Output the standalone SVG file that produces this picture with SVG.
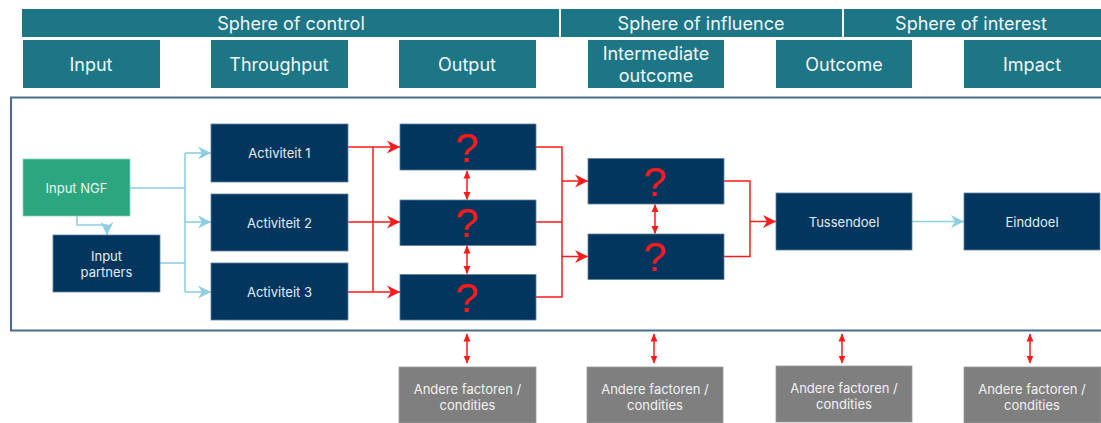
<svg xmlns="http://www.w3.org/2000/svg" width="1101" height="423" viewBox="0 0 1101 423">
<style>
.hdr{fill:#1d7686;}
.hdrt{fill:#f2f6f7;font-family:Inter,"Liberation Sans",sans-serif;font-size:18px;text-anchor:middle;dominant-baseline:central;}
.nav{fill:#03365f;stroke:#5f7f9e;stroke-width:0.8;}
.grn{fill:#2ba680;stroke:#8fd3bd;stroke-width:0.8;}
.gry{fill:#7f7f7f;stroke:#9a9a9a;stroke-width:0.8;}
.lbl{fill:#e4ecf3;font-family:Inter,"Liberation Sans",sans-serif;font-size:13px;text-anchor:middle;dominant-baseline:central;}
.q{fill:#ff1a1a;font-family:"Liberation Sans",Arial,sans-serif;font-size:41px;text-anchor:middle;dominant-baseline:central;}
.blue{fill:none;stroke:#8fcde2;stroke-width:1.6;}
.red{fill:none;stroke:#ff1a1a;stroke-width:1.5;}
</style>
<defs>
<marker id="ab" markerUnits="userSpaceOnUse" markerWidth="14" markerHeight="14" refX="13" refY="7" orient="auto">
<path d="M0,0.5 L13,7 L0,13.5 L4,7 Z" fill="#8fcde2"/>
</marker>
<marker id="ar" markerUnits="userSpaceOnUse" markerWidth="14" markerHeight="14" refX="13" refY="7" orient="auto">
<path d="M0,0.5 L13,7 L0,13.5 L4,7 Z" fill="#ff1a1a"/>
</marker>
<marker id="dr" markerUnits="userSpaceOnUse" markerWidth="8" markerHeight="8" refX="7.5" refY="4" orient="auto-start-reverse">
<path d="M0,0.5 L8,4 L0,7.5 Z" fill="#ff1a1a"/>
</marker>
</defs>

<g id="header">
<rect class="hdr" x="22" y="9" width="537" height="28"/>
<rect class="hdr" x="561" y="9" width="281" height="28"/>
<rect class="hdr" x="844" y="9" width="257" height="28"/>
<text class="hdrt" x="291" y="23">Sphere of control</text>
<text class="hdrt" x="701" y="23">Sphere of influence</text>
<text class="hdrt" x="971" y="23">Sphere of interest</text>
</g>
<g id="phases">
<rect class="hdr" x="23" y="40" width="137" height="48"/>
<text class="hdrt" x="91" y="64">Input</text>
<rect class="hdr" x="211" y="40" width="137" height="48"/>
<text class="hdrt" x="279" y="64">Throughput</text>
<rect class="hdr" x="399" y="40" width="137" height="48"/>
<text class="hdrt" x="467" y="64">Output</text>
<rect class="hdr" x="588" y="40" width="136" height="48"/>
<text class="hdrt" x="656" y="53">Intermediate</text>
<text class="hdrt" x="656" y="75">outcome</text>
<rect class="hdr" x="776" y="40" width="136" height="48"/>
<text class="hdrt" x="844" y="64">Outcome</text>
<rect class="hdr" x="964" y="40" width="137" height="48"/>
<text class="hdrt" x="1032" y="64">Impact</text>
</g>

<rect id="frame" x="11" y="97.5" width="1095" height="233" fill="none" stroke="#4a6d8f" stroke-width="2"/>

<g id="connectors">
<polyline class="blue" points="129,188 185,188"/>
<polyline class="blue" points="160,263 185,263"/>
<polyline class="blue" points="185,153 185,292"/>
<line class="blue" x1="185" y1="153" x2="211" y2="153" marker-end="url(#ab)"/>
<line class="blue" x1="185" y1="222" x2="211" y2="222" marker-end="url(#ab)"/>
<line class="blue" x1="185" y1="292" x2="211" y2="292" marker-end="url(#ab)"/>
<polyline class="blue" points="77,216 77,225 107,225 107,235" marker-end="url(#ab)"/>
<line class="blue" x1="912" y1="221.5" x2="964" y2="221.5" marker-end="url(#ab)"/>

<line class="red" x1="348" y1="147" x2="373" y2="147"/>
<line class="red" x1="348" y1="222" x2="373" y2="222"/>
<line class="red" x1="348" y1="292" x2="373" y2="292"/>
<line class="red" x1="373" y1="147" x2="373" y2="292"/>
<line class="red" x1="373" y1="147" x2="400" y2="147" marker-end="url(#ar)"/>
<line class="red" x1="373" y1="222" x2="400" y2="222" marker-end="url(#ar)"/>
<line class="red" x1="373" y1="292" x2="400" y2="292" marker-end="url(#ar)"/>

<polyline class="red" points="536,147 562,147 562,297 536,297"/>
<line class="red" x1="536" y1="222" x2="562" y2="222"/>
<line class="red" x1="562" y1="181" x2="588" y2="181" marker-end="url(#ar)"/>
<line class="red" x1="562" y1="256.5" x2="588" y2="256.5" marker-end="url(#ar)"/>

<polyline class="red" points="724,181 750,181 750,256.5 724,256.5"/>
<line class="red" x1="750" y1="221.5" x2="776" y2="221.5" marker-end="url(#ar)"/>

<line class="red" x1="467" y1="171" x2="467" y2="199.5" marker-start="url(#dr)" marker-end="url(#dr)"/>
<line class="red" x1="467" y1="246" x2="467" y2="273.5" marker-start="url(#dr)" marker-end="url(#dr)"/>
<line class="red" x1="655" y1="204.5" x2="655" y2="233.5" marker-start="url(#dr)" marker-end="url(#dr)"/>
<line class="red" x1="467" y1="334" x2="467" y2="363" marker-start="url(#dr)" marker-end="url(#dr)"/>
<line class="red" x1="654" y1="334" x2="654" y2="363" marker-start="url(#dr)" marker-end="url(#dr)"/>
<line class="red" x1="842" y1="334" x2="842" y2="363" marker-start="url(#dr)" marker-end="url(#dr)"/>
<line class="red" x1="1030" y1="334" x2="1030" y2="363" marker-start="url(#dr)" marker-end="url(#dr)"/>
</g>

<g id="input-ngf"><rect class="grn" x="23" y="159" width="107" height="57"/><text class="lbl" x="76.5" y="188" style="fill:#eef6f2">Input NGF</text></g>
<g id="input-partners"><rect class="nav" x="53" y="235" width="107" height="57"/><text class="lbl" x="106.5" y="256">Input</text><text class="lbl" x="106.5" y="272">partners</text></g>
<g id="activiteit-1"><rect class="nav" x="211" y="124" width="137" height="58"/><text class="lbl" x="279.5" y="153">Activiteit 1</text></g>
<g id="activiteit-2"><rect class="nav" x="211" y="194" width="137" height="57"/><text class="lbl" x="279.5" y="222.5">Activiteit 2</text></g>
<g id="activiteit-3"><rect class="nav" x="211" y="263" width="137" height="57"/><text class="lbl" x="279.5" y="292">Activiteit 3</text></g>
<g id="output-1"><rect class="nav" x="400" y="124" width="136" height="46"/><text class="q" x="467" y="148">?</text></g>
<g id="output-2"><rect class="nav" x="400" y="200" width="136" height="45.5"/><text class="q" x="467" y="223">?</text></g>
<g id="output-3"><rect class="nav" x="400" y="274.5" width="136" height="45.5"/><text class="q" x="467" y="298">?</text></g>
<g id="intermediate-1"><rect class="nav" x="588" y="158.5" width="136" height="45.5"/><text class="q" x="655" y="182">?</text></g>
<g id="intermediate-2"><rect class="nav" x="588" y="234" width="136" height="45.5"/><text class="q" x="655" y="257">?</text></g>
<g id="tussendoel"><rect class="nav" x="776" y="193" width="136" height="57"/><text class="lbl" x="844" y="221.5">Tussendoel</text></g>
<g id="einddoel"><rect class="nav" x="964" y="193" width="136" height="57"/><text class="lbl" x="1032" y="221.5">Einddoel</text></g>

<g id="factor-1"><rect class="gry" x="399" y="367" width="137" height="56"/><text class="lbl" x="467.5" y="389" style="fill:#f2f2f2">Andere factoren /</text><text class="lbl" x="467.5" y="405" style="fill:#f2f2f2">condities</text></g>
<g id="factor-2"><rect class="gry" x="587" y="367" width="136" height="56"/><text class="lbl" x="655" y="389" style="fill:#f2f2f2">Andere factoren /</text><text class="lbl" x="655" y="405" style="fill:#f2f2f2">condities</text></g>
<g id="factor-3"><rect class="gry" x="776" y="366" width="136" height="56"/><text class="lbl" x="844" y="388" style="fill:#f2f2f2">Andere factoren /</text><text class="lbl" x="844" y="404" style="fill:#f2f2f2">condities</text></g>
<g id="factor-4"><rect class="gry" x="964" y="367" width="137" height="56"/><text class="lbl" x="1032" y="389" style="fill:#f2f2f2">Andere factoren /</text><text class="lbl" x="1032" y="405" style="fill:#f2f2f2">condities</text></g>
</svg>
